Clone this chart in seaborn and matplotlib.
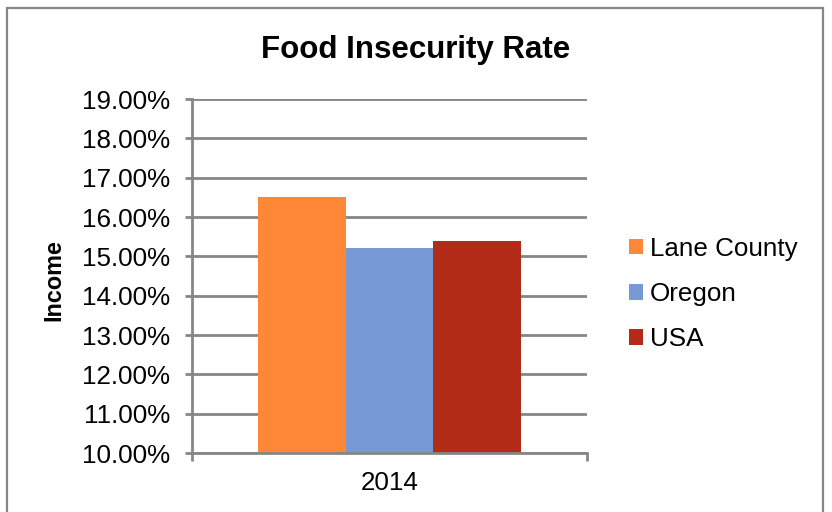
import matplotlib
matplotlib.use("Agg")
import matplotlib.pyplot as plt
import matplotlib.patches as patches
from matplotlib.ticker import PercentFormatter, FixedLocator
import seaborn as sns
import pandas as pd

# data
years = ["2014"]
regions = ["Lane County", "Oregon", "USA"]
rates = [0.165, 0.152, 0.154]
colors = ["#FF8838", "#7799D6", "#B22B17"]

df = pd.DataFrame({"Year": years * len(regions), "Region": regions, "Rate": rates})

sns.set_theme(style="white")
plt.rcParams["font.family"] = ["Liberation Sans", "DejaVu Sans"]
plt.rcParams["text.color"] = "black"

line_gray = "#868686"

fig = plt.figure(figsize=(8.32, 5.12), dpi=100)
ax = fig.add_axes([192 / 832, 59 / 512, 395 / 832, 354 / 512])

sns.barplot(data=df, x="Year", y="Rate", hue="Region", palette=colors,
            width=0.668, saturation=1, linewidth=0, ax=ax, legend=True)

ax.set_ylim(0.10, 0.19)
ax.set_xlim(-0.5, 0.5)
ax.set_yticks([0.10 + 0.01 * i for i in range(10)])
ax.yaxis.set_major_formatter(PercentFormatter(xmax=1, decimals=2))
ax.grid(axis="y", color=line_gray, linewidth=2)
ax.set_axisbelow(True)

for s in ["top", "right"]:
    ax.spines[s].set_visible(False)
for s in ["left", "bottom"]:
    ax.spines[s].set_color(line_gray)
    ax.spines[s].set_linewidth(2)

ax.tick_params(axis="y", left=True, length=5, width=2, color=line_gray,
               pad=11, labelsize=18.7, labelcolor="black")
ax.tick_params(axis="x", bottom=False, pad=7, labelsize=18.7, labelcolor="black")
ax.xaxis.set_minor_locator(FixedLocator([-0.5, 0.5]))
ax.tick_params(axis="x", which="minor", bottom=True, length=6, width=2,
               color=line_gray, direction="out")

ax.set_xlabel("")
ax.set_ylabel("")

fig.text(54 / 832, 1 - 280 / 512, "Income", rotation=90, ha="center", va="center",
         fontsize=16.8, fontweight="bold", color="black")
fig.text(0.5, 1 - 58 / 512, "Food Insecurity Rate", ha="center", va="baseline",
         fontsize=22.5, fontweight="bold", color="black")

handles, labels = ax.get_legend_handles_labels()
leg = ax.legend(handles, labels, loc="center left", bbox_to_anchor=(629 / 832, 1 - 294 / 512),
                bbox_transform=fig.transFigure, frameon=False, fontsize=18.7,
                handlelength=0.54, handleheight=0.54, handletextpad=0.25,
                labelspacing=0.82, borderpad=0, borderaxespad=0)
for t in leg.get_texts():
    t.set_color("black")

fig.patches.append(patches.Rectangle((7 / 832, -0.05), (823 - 7) / 832, 1.05 - 8 / 512,
                                     transform=fig.transFigure, fill=False,
                                     edgecolor=line_gray, linewidth=1.6))

fig.savefig("out.png", dpi=100, facecolor="white")
